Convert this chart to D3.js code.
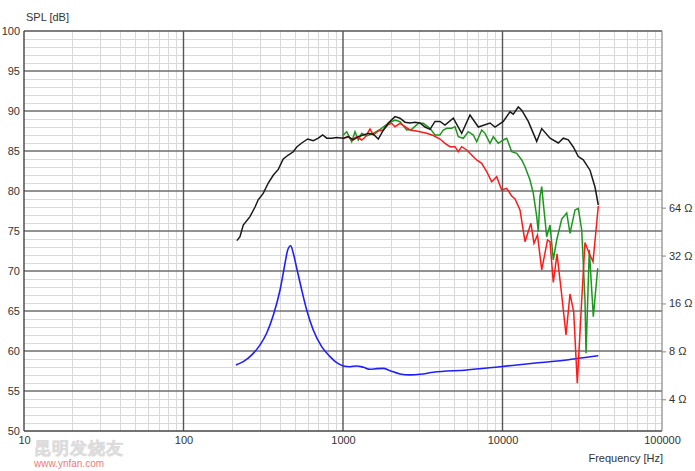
<!DOCTYPE html>
<html>
<head>
<meta charset="utf-8">
<script src="https://cdn.jsdelivr.net/npm/d3@7"></script>
<style>
  html, body { margin: 0; padding: 0; background: #fff; }
  svg { display: block; }
  text { font-family: "Liberation Sans", Arial, sans-serif; }
</style>
</head>
<body>
<svg id="chart" width="695" height="471"></svg>
<script>
// ---------------- data ----------------
const dbTicks = [50, 55, 60, 65, 70, 75, 80, 85, 90, 95, 100];
const freqTicks = [10, 100, 1000, 10000, 100000];
const ohmTicks = [4, 8, 16, 32, 64];

// black (on-axis SPL)
const blackFreq = [216,226,237,261,281,294,316,340,366,393,422,454,488,513,551,601,652,700,746,791,849,913,1004,1080,1160,1247,1341,1441,1549,1665,1789,1923,2118,2277,2447,2631,2828,3039,3267,3511,3774,4057,4360,4915,5549,6255,7053,8350,8974,10116,11143,11686,12564,13198,14512,16390,17614,19860,22385,24058,25854,27790,29867,32100,35370,38010,39870];
const blackDb = [73.8,74.3,75.75,76.8,78.0,78.9,79.7,81.0,82.0,82.7,84.0,84.5,84.9,85.5,86.0,86.5,86.3,86.6,87.0,86.6,86.6,86.7,86.6,86.8,86.4,86.8,87.0,87.2,87.1,86.5,87.6,88.5,89.3,89.1,88.6,88.5,88.6,88.5,88.0,87.7,88.7,88.7,88.25,89.1,87.2,89.5,88.0,88.5,88.0,88.7,89.9,89.6,90.5,90.1,88.7,86.2,87.8,86.6,86.0,86.6,86.4,85.5,84.3,83.9,82.6,80.5,78.25];

// green (off-axis SPL)
const greenFreq = [1004,1055,1134,1189,1247,1310,1408,1549,1706,1923,2118,2277,2509,2696,2966,3187,3511,3774,4057,4254,4469,4803,5038,5284,5679,6104,6561,6889,7405,7767,8350,8757,9412,10116,10625,11422,12276,13198,13838,14874,15600,16390,16765,17180,17614,18030,18930,19860,20820,21870,23510,25270,26500,28480,29867,31380,32900,33390,35010,37100,39530];
const greenDb = [87.0,87.41,86.16,87.41,86.38,87.21,86.88,87.21,87.71,88.46,88.88,88.66,87.63,87.71,88.46,88.46,87.84,87.0,87.0,87.63,87.84,87.84,88.04,86.79,86.59,87.41,87.0,86.16,87.63,87.21,85.96,86.79,85.96,86.38,86.59,84.91,84.71,83.88,83.04,81.38,79.71,76.79,74.91,79.29,80.54,78.46,74.29,75.75,71.38,73.88,76.5,77.25,74.71,77.63,77.84,75.13,66.38,59.71,72.63,64.29,70.34];

// red (off-axis SPL)
const redFreq = [1004,1080,1134,1219,1310,1373,1477,1549,1665,1789,1923,2020,2118,2277,2447,2631,2828,3039,3348,3682,4057,4360,4687,5038,5284,5549,5965,6411,6889,7405,7959,8556,9196,9885,10625,11422,11981,12876,13838,15070,15760,16570,17614,19150,19860,20820,21970,23510,25010,26500,27950,29440,31380,32900,34770,36940,39870];
const redDb = [86.56,86.79,86.38,86.79,86.38,86.71,87.75,87.0,87.5,87.63,88.31,88.46,88.04,88.46,88.04,87.63,87.54,87.41,87.21,86.94,86.5,85.96,85.54,85.54,84.91,85.54,85.13,84.5,83.88,83.46,82.41,81.16,81.79,80.13,80.34,79.38,79.0,77.63,73.66,75.96,73.46,74.5,70.13,73.88,73.66,68.56,72.13,67.0,62.0,67.13,64.88,55.96,66.38,73.56,72.31,71.16,78.13];

// blue (impedance, ohms)
const impFreq = [213,237,268,302,332,366,403,433,450,470,488,513,551,592,651,735,829,913,1004,1106,1219,1341,1477,1627,1789,1971,2277,2631,3039,3682,5965,9645,15600,25270,32100,39870];
const impOhm = [6.57,6.89,7.60,8.78,10.40,13.55,19.45,28.6,34.7,36.9,33.1,26.6,19.45,14.56,10.9,8.56,7.41,6.79,6.48,6.41,6.48,6.36,6.17,6.23,6.25,6.05,5.77,5.69,5.74,5.91,6.11,6.41,6.73,7.06,7.30,7.52];

// ---------------- chart ----------------
const svg = d3.select("#chart");
const L = 24, R = 662, T = 31, B = 431;

const x = d3.scaleLog().domain([10, 100000]).range([L, R]);
const y = d3.scaleLinear().domain([50, 100]).range([B, T]);
const z = d3.scaleLog().domain([2.527, 825]).range([B, T]);

const grid = svg.append("g");

// minor horizontal (1 dB)
grid.selectAll("line.hmin").data(d3.range(50, 101, 1).filter(d => d % 5 !== 0))
  .join("line")
  .attr("x1", L).attr("x2", R)
  .attr("y1", d => y(d) + 0.5).attr("y2", d => y(d) + 0.5)
  .attr("stroke", "#d9d9d9").attr("stroke-width", 1);

// minor vertical (2..9 per decade)
const minorF = [];
for (let dec = 10; dec < 100000; dec *= 10) for (let m = 2; m <= 9; m++) minorF.push(dec * m);
grid.selectAll("line.vmin").data(minorF)
  .join("line")
  .attr("x1", d => Math.round(x(d)) + 0.5).attr("x2", d => Math.round(x(d)) + 0.5)
  .attr("y1", T).attr("y2", B)
  .attr("stroke", "#d9d9d9").attr("stroke-width", 1);

// major horizontal (5 dB)
grid.selectAll("line.hmaj").data(dbTicks.filter(d => d > 50 && d < 100))
  .join("line")
  .attr("x1", L).attr("x2", R)
  .attr("y1", d => y(d)).attr("y2", d => y(d))
  .attr("stroke", "#6e6e6e").attr("stroke-width", 1.6);

// decade verticals
grid.selectAll("line.vmaj").data(freqTicks.filter(d => d > 10 && d < 100000))
  .join("line")
  .attr("x1", d => x(d)).attr("x2", d => x(d))
  .attr("y1", T).attr("y2", B)
  .attr("stroke", "#555").attr("stroke-width", 1.4);

// frame
svg.append("line").attr("x1", L).attr("x2", R).attr("y1", T).attr("y2", T).attr("stroke", "#555").attr("stroke-width", 1.4);
svg.append("line").attr("x1", L).attr("x2", R).attr("y1", B).attr("y2", B).attr("stroke", "#444").attr("stroke-width", 1.4);
svg.append("line").attr("x1", L).attr("x2", L).attr("y1", T).attr("y2", B).attr("stroke", "#444").attr("stroke-width", 1.4);
svg.append("line").attr("x1", R).attr("x2", R).attr("y1", T).attr("y2", B).attr("stroke", "#888").attr("stroke-width", 1.2);

// axes
const axisStyle = g => {
  g.select(".domain").remove();
  g.selectAll("text").attr("font-size", 11).attr("fill", "#333")
    .attr("font-family", "'Liberation Sans', Arial, sans-serif");
};
svg.append("g").attr("transform", `translate(${L},0)`)
  .call(d3.axisLeft(y).tickValues(dbTicks).tickSize(0).tickPadding(4).tickFormat(d3.format("d")))
  .call(axisStyle);
svg.append("g").attr("transform", `translate(0,${B})`)
  .call(d3.axisBottom(x).tickValues(freqTicks).tickSize(0).tickPadding(5).tickFormat(d3.format("d")))
  .call(axisStyle);
svg.append("g").attr("transform", `translate(${R},0)`)
  .call(d3.axisRight(z).tickValues(ohmTicks).tickSize(4).tickPadding(3).tickFormat(d => d + " Ω"))
  .call(axisStyle)
  .call(g => g.selectAll("line").attr("stroke", "#888"));

// axis titles
svg.append("text").attr("x", 26).attr("y", 21).attr("font-size", 11).attr("fill", "#333").text("SPL [dB]");
svg.append("text").attr("x", 663).attr("y", 462).attr("text-anchor", "end").attr("font-size", 11).attr("fill", "#333").text("Frequency [Hz]");

// watermark (shifted slightly so it does not sit on the "10" tick label)
svg.append("text").attr("x", 34).attr("y", 454).attr("font-size", 17).attr("font-weight", "bold")
  .attr("font-family", "'Noto Sans CJK SC', sans-serif").attr("letter-spacing", 1)
  .attr("fill", "#ededed").attr("stroke", "#dcdcdc").attr("stroke-width", 0.6).text("昆明发烧友");
svg.append("text").attr("x", 34).attr("y", 467).attr("font-size", 10)
  .attr("font-family", "'DejaVu Sans Mono', monospace").attr("fill", "#ef7a7a").text("www.ynfan.com");

// curves
const spl = (f, v) => f.map((d, i) => [d, v[i]]);
const line = d3.line().x(d => x(d[0])).y(d => y(d[1]));
const zline = d3.line().x(d => x(d[0])).y(d => z(d[1])).curve(d3.curveMonotoneX);

svg.append("path").datum(spl(impFreq, impOhm)).attr("d", zline)
  .attr("fill", "none").attr("stroke", "#1f1fff").attr("stroke-width", 1.6);
svg.append("path").datum(spl(greenFreq, greenDb)).attr("d", line)
  .attr("fill", "none").attr("stroke", "#1c961c").attr("stroke-width", 1.5);
svg.append("path").datum(spl(redFreq, redDb)).attr("d", line)
  .attr("fill", "none").attr("stroke", "#ff1a1a").attr("stroke-width", 1.5);
svg.append("path").datum(spl(blackFreq, blackDb)).attr("d", line)
  .attr("fill", "none").attr("stroke", "#1a1a1a").attr("stroke-width", 1.5);
</script>
</body>
</html>
